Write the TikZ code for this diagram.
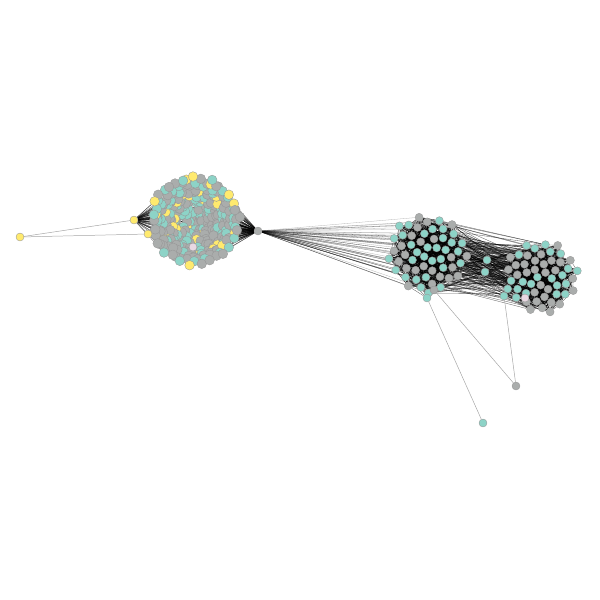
\documentclass[tikz,border=0pt]{standalone}
\usepackage{tikz}
\usetikzlibrary{backgrounds}
\definecolor{setteal}{RGB}{141,211,199}
\definecolor{setgray}{RGB}{170,173,172}
\definecolor{setyellow}{RGB}{255,234,110}
\definecolor{setpink}{RGB}{232,216,226}
\definecolor{vertline}{RGB}{150,150,150}

\begin{document}
\begin{tikzpicture}[
    x=0.025cm, y=-0.025cm,
    vert/.style={circle, draw=vertline, line width=0.25pt, inner sep=0pt, minimum size=0.2cm},
    bigvert/.style={vert, minimum size=0.24cm},
    link/.style={draw=black, line width=0.25pt, opacity=0.6},
    spoke/.style={draw=black, line width=0.25pt, opacity=0.6},
    thin spoke/.style={draw=black, line width=0.2pt, opacity=0.3},
    lone/.style={draw=black!35, line width=0.35pt}
]
\useasboundingbox (0,0) rectangle (600,600);
\pgfmathsetseed{11}

% left ball
\foreach \i in {1,...,280}{
  \pgfmathsetmacro\rr{44*sqrt((\i-0.5)/280)}
  \pgfmathsetmacro\aa{10*mod(\i*13.7508,36)}
  \pgfmathsetmacro\dx{rand*3}
  \pgfmathsetmacro\dy{rand*3}
  \pgfmathrandominteger{\k}{1}{100}
  \ifnum\k<12 \def\col{setyellow}\else\ifnum\k<44 \def\col{setteal}\else\def\col{setgray}\fi\fi
  \node[bigvert, fill=\col] (a\i) at ({195+\rr*cos(\aa)+\dx},{221+\rr*sin(\aa)+\dy}) {};
}
\node[vert, fill=setpink] (apink) at (193,247) {};

% middle cluster
\foreach \i in {1,...,55}{
  \pgfmathsetmacro\rr{40*sqrt((\i-0.5)/55)}
  \pgfmathsetmacro\aa{10*mod(\i*13.7508,36)}
  \pgfmathrandominteger{\k}{1}{100}
  \ifnum\k<52 \def\col{setteal}\else\def\col{setgray}\fi
  \node[vert, fill=\col] (b\i) at ({427+\rr*cos(\aa)},{254+\rr*sin(\aa)}) {};
}

% right cluster
\foreach \i in {1,...,52}{
  \pgfmathsetmacro\rr{37*sqrt((\i-0.5)/52)}
  \pgfmathsetmacro\aa{10*mod(\i*13.7508,36)+40}
  \pgfmathrandominteger{\k}{1}{100}
  \ifnum\k<48 \def\col{setteal}\else\def\col{setgray}\fi
  \node[vert, fill=\col] (c\i) at ({541+\rr*cos(\aa)},{277+\rr*sin(\aa)}) {};
}
\node[vert, fill=setpink] (cpink) at (525,298) {};

% single vertices
\node[vert, fill=setyellow] (yfar) at (20,237) {};
\node[vert, fill=setyellow] (yleft) at (134,220) {};
\node[vert, fill=setyellow] (ylow) at (148,234) {};
\node[vert, fill=setgray] (hub) at (258,231) {};
\node[vert, fill=setteal] (bridgea) at (487,260) {};
\node[vert, fill=setteal] (bridgeb) at (485,272) {};
\node[vert, fill=setgray] (bedge) at (434,290) {};
\node[vert, fill=setteal] (bfoot) at (427,298) {};
\node[vert, fill=setteal] (cfoot) at (504,296) {};
\node[vert, fill=setgray] (ogray) at (516,386) {};
\node[vert, fill=setteal] (oteal) at (483,423) {};

\begin{scope}[on background layer]
  \draw[lone] (yfar) -- (yleft);
  \draw[lone] (yfar) -- (ylow);
  \foreach \j in {1,...,60}{
    \pgfmathrandominteger{\m}{1}{280}
    \draw[spoke] (yleft) -- (a\m);
  }
  \foreach \j in {1,...,110}{
    \pgfmathrandominteger{\m}{1}{280}
    \draw[spoke] (hub) -- (a\m);
  }
  \foreach \j in {1,...,70}{
    \pgfmathrandominteger{\m}{1}{55}
    \draw[thin spoke] (hub) -- (b\m);
  }
  \foreach \j in {1,...,800}{
    \pgfmathrandominteger{\m}{1}{55}
    \pgfmathrandominteger{\n}{1}{55}
    \draw[link] (b\m) -- (b\n);
  }
  \foreach \j in {1,...,750}{
    \pgfmathrandominteger{\m}{1}{52}
    \pgfmathrandominteger{\n}{1}{52}
    \draw[link] (c\m) -- (c\n);
  }
  \foreach \j in {1,...,200}{
    \pgfmathrandominteger{\m}{1}{55}
    \pgfmathrandominteger{\n}{1}{52}
    \draw[link] (b\m) -- (c\n);
  }
  \foreach \j in {1,...,10}{
    \pgfmathrandominteger{\m}{1}{55}
    \pgfmathrandominteger{\n}{1}{52}
    \pgfmathrandominteger{\p}{1}{55}
    \pgfmathrandominteger{\q}{1}{52}
    \draw[link] (bridgea) -- (b\m);
    \draw[link] (bridgea) -- (c\n);
    \draw[link] (bridgeb) -- (b\p);
    \draw[link] (bridgeb) -- (c\q);
    \draw[link] (bedge) -- (b\m);
    \draw[link] (bfoot) -- (b\p);
    \draw[link] (cfoot) -- (c\n);
    \draw[link] (cpink) -- (c\q);
  }
  \draw[lone] (ogray) -- (bedge);
  \draw[lone] (ogray) -- (cfoot);
  \draw[lone] (oteal) -- (bfoot);
\end{scope}
\end{tikzpicture}
\end{document}
